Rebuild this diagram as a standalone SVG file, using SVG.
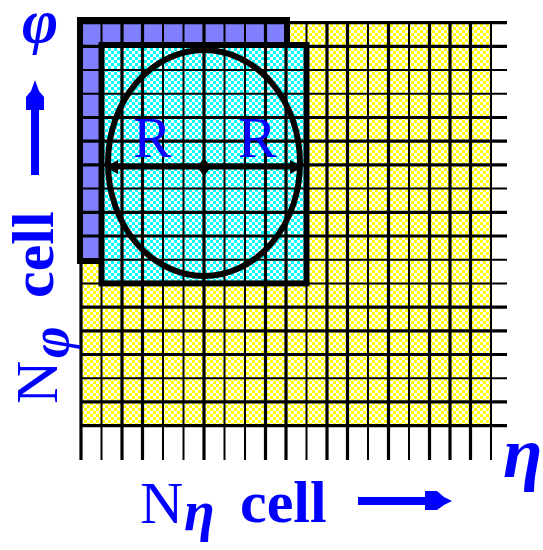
<svg xmlns="http://www.w3.org/2000/svg" width="543" height="550" viewBox="0 0 543 550">
<defs>
<pattern id="py" patternUnits="userSpaceOnUse" width="6" height="6">
<rect width="6" height="6" fill="#fff"/>
<rect width="3" height="3" fill="#ffff00"/>
<rect x="3" y="3" width="3" height="3" fill="#ffff00"/>
</pattern>
<pattern id="pc" patternUnits="userSpaceOnUse" width="6" height="6">
<rect width="6" height="6" fill="#fff"/>
<rect width="3" height="3" fill="#00ffff"/>
<rect x="3" y="3" width="3" height="3" fill="#00ffff"/>
</pattern>
</defs>
<style>
.tk{stroke:#000;stroke-width:3.2}
.tn{stroke:#000;stroke-width:2}
.lbl{fill:#0000ff;font-family:"Liberation Serif","Times New Roman",serif}
.b{font-weight:bold}
.bi{font-weight:bold;font-style:italic}
</style>
<rect width="543" height="550" fill="#fff"/>
<g id="grid">
<rect x="81" y="22.7" width="410" height="403" fill="url(#py)"/>
<g id="purple-region">
<rect x="81" y="22.7" width="205" height="23.7" fill="#8080ff"/>
<rect x="81" y="22.7" width="20.5" height="237" fill="#8080ff"/>
<rect x="80" y="20" width="207" height="241" fill="none" stroke="#000" stroke-width="6"/>
</g>
<rect id="cyan-fill" x="101.5" y="46.4" width="205" height="237" fill="url(#pc)"/>
<g id="vlines">
<line class="tk" x1="81" y1="22.7" x2="81" y2="460"/>
<line class="tn" x1="101.5" y1="22.7" x2="101.5" y2="460"/>
<line class="tk" x1="122" y1="22.7" x2="122" y2="460"/>
<line class="tk" x1="142.5" y1="22.7" x2="142.5" y2="460"/>
<line class="tn" x1="163" y1="22.7" x2="163" y2="460"/>
<line class="tn" x1="183.5" y1="22.7" x2="183.5" y2="460"/>
<line class="tk" x1="204" y1="22.7" x2="204" y2="460"/>
<line class="tn" x1="224.5" y1="22.7" x2="224.5" y2="460"/>
<line class="tn" x1="245" y1="22.7" x2="245" y2="460"/>
<line class="tk" x1="265.5" y1="22.7" x2="265.5" y2="460"/>
<line class="tk" x1="286" y1="22.7" x2="286" y2="460"/>
<line class="tn" x1="306.5" y1="22.7" x2="306.5" y2="460"/>
<line class="tk" x1="327" y1="22.7" x2="327" y2="460"/>
<line class="tk" x1="347.5" y1="22.7" x2="347.5" y2="460"/>
<line class="tn" x1="368" y1="22.7" x2="368" y2="460"/>
<line class="tk" x1="388.5" y1="22.7" x2="388.5" y2="460"/>
<line class="tn" x1="409" y1="22.7" x2="409" y2="460"/>
<line class="tk" x1="429.5" y1="22.7" x2="429.5" y2="460"/>
<line class="tk" x1="450" y1="22.7" x2="450" y2="460"/>
<line class="tk" x1="470.5" y1="22.7" x2="470.5" y2="460"/>
<line class="tn" x1="491" y1="22.7" x2="491" y2="460"/>
</g>
<g id="hlines">
<line class="tk" x1="81" y1="22.7" x2="507" y2="22.7"/>
<line class="tk" x1="81" y1="46.4" x2="507" y2="46.4"/>
<line class="tn" x1="81" y1="70.1" x2="507" y2="70.1"/>
<line class="tn" x1="81" y1="93.8" x2="507" y2="93.8"/>
<line class="tk" x1="81" y1="117.5" x2="507" y2="117.5"/>
<line class="tk" x1="81" y1="141.2" x2="507" y2="141.2"/>
<line class="tk" x1="81" y1="164.9" x2="507" y2="164.9"/>
<line class="tn" x1="81" y1="188.6" x2="507" y2="188.6"/>
<line class="tk" x1="81" y1="212.3" x2="507" y2="212.3"/>
<line class="tk" x1="81" y1="236" x2="507" y2="236"/>
<line class="tn" x1="81" y1="259.7" x2="507" y2="259.7"/>
<line class="tn" x1="81" y1="283.4" x2="507" y2="283.4"/>
<line class="tk" x1="81" y1="307.1" x2="507" y2="307.1"/>
<line class="tk" x1="81" y1="330.8" x2="507" y2="330.8"/>
<line class="tk" x1="81" y1="354.5" x2="507" y2="354.5"/>
<line class="tn" x1="81" y1="378.2" x2="507" y2="378.2"/>
<line class="tk" x1="81" y1="401.9" x2="507" y2="401.9"/>
<line class="tk" x1="81" y1="425.6" x2="507" y2="425.6"/>
</g>
<rect id="cyan-border" x="101.5" y="45" width="205" height="238.4" fill="none" stroke="#000" stroke-width="6"/>
</g>
<g id="circle">
<ellipse cx="204" cy="163" rx="96" ry="113" fill="none" stroke="#000" stroke-width="6"/>
</g>
<g id="connectors">
<line x1="114" y1="167" x2="294" y2="167" stroke="#000" stroke-width="5"/>
<polygon points="105,167 118,160 118,174" fill="#000"/>
<polygon points="303,167 290,160 290,174" fill="#000"/>
<polygon points="204,158 211,167 204,176 197,167" fill="#000"/>
</g>
<g id="labels">
<text class="lbl" x="133" y="157" font-size="58">R</text>
<text class="lbl" x="238" y="157" font-size="58">R</text>
<text class="lbl" x="140" y="523" font-size="60">N</text>
<text class="lbl bi" x="184" y="530" font-size="56">η</text>
<text class="lbl b" x="240" y="522" font-size="60">cell</text>
<rect x="358" y="497" width="69" height="8" fill="#0000ff"/>
<polygon points="425,491 437,491 444,497 452,501 444,505 437,510 425,510" fill="#0000ff"/>
<text class="lbl bi" x="503" y="477" font-size="72">η</text>
<text class="lbl" transform="translate(57,404) rotate(-90)" font-size="60">N</text>
<text class="lbl bi" transform="translate(68,358) rotate(-90)" font-size="54">φ</text>
<text class="lbl b" transform="translate(53,298) rotate(-90)" font-size="60">cell</text>
<rect x="31" y="108" width="8" height="67" fill="#0000ff"/>
<polygon points="26,110 26,97 31,91 35,80 39,91 44,97 44,110" fill="#0000ff"/>
<text class="lbl bi" x="22" y="42" font-size="62">φ</text>
</g>
</svg>
